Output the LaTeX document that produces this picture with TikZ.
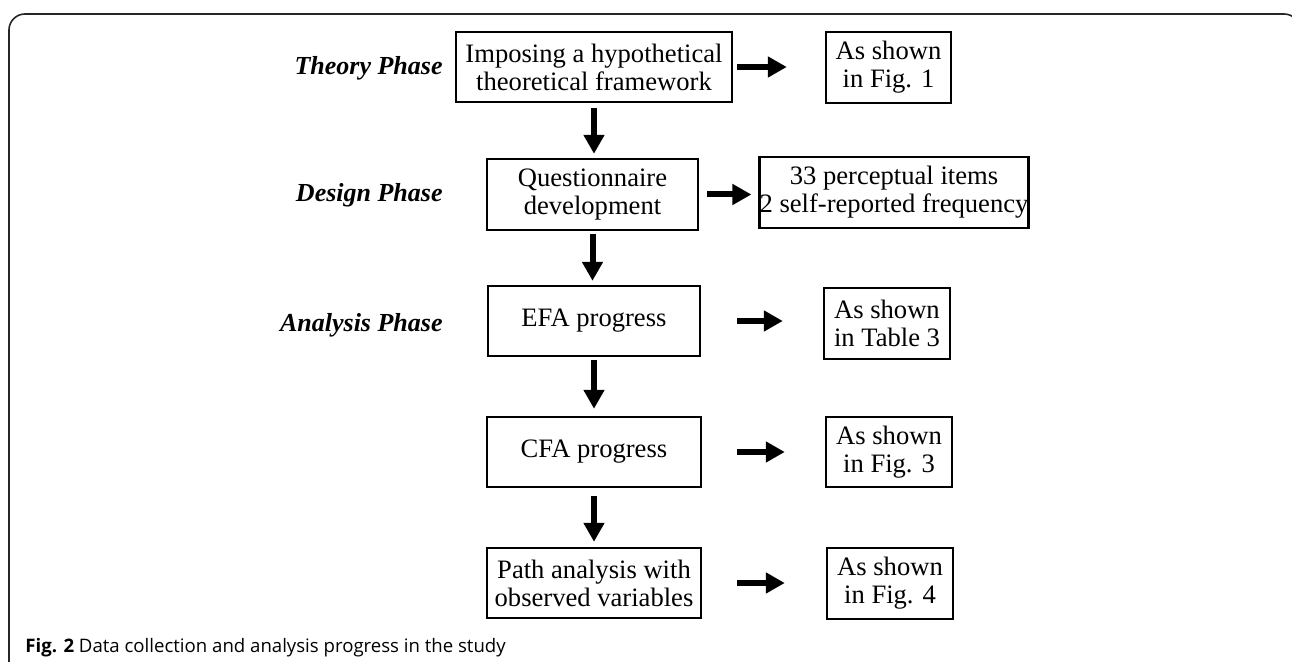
\documentclass[tikz,border=0pt]{standalone}
\usepackage{fontspec}
\setmainfont{Liberation Serif}
\newfontfamily\capfont{Open Sans}
\usetikzlibrary{arrows.meta}

\begin{document}
\begin{tikzpicture}[x=0.5pt, y=-0.5pt,
    stepbox/.style={draw, line width=1.2pt, align=center, inner sep=0pt,
                    font=\fontsize{13.3}{14}\selectfont},
    phase/.style={anchor=base east, inner sep=0pt, font=\fontsize{13}{14}\selectfont\bfseries\itshape},
    flow/.style={-{Triangle[length=9.5pt, width=10pt]}, line width=3pt}]
    \useasboundingbox (0,0) rectangle (1292,662);
    % frame round the figure
    \draw[line width=0.8pt, rounded corners=8pt, black!85] (9,700) -- (9,14) -- (1300,14) -- (1300,700);

    % phases
    \node[phase] (theoryph) at (443,75) {Theory Phase};
    \node[phase] (designph) at (443,202) {Design Phase};
    \node[phase] (analysisph) at (443,332) {Analysis Phase};

    % main column
    \node[stepbox, minimum width=138pt, minimum height=35pt] (theory) at (594,67) {Imposing a hypothetical\\theoretical framework};
    \node[stepbox, minimum width=105.5pt, minimum height=35.5pt] (design) at (592.5,194.5) {Questionnaire\\development};
    \node[stepbox, minimum width=106pt, minimum height=35pt] (efa) at (594,321) {EFA progress};
    \node[stepbox, minimum width=107pt, minimum height=35pt] (cfa) at (594,452) {CFA progress};
    \node[stepbox, minimum width=107pt, minimum height=35pt] (path) at (594,583) {Path analysis with\\observed variables};

    % results column
    \node[stepbox, minimum width=62.5pt, minimum height=35.5pt] (fig1) at (888.5,67.5) {As shown\\in Fig. 1};
    \node[stepbox, minimum width=133pt, minimum height=35.5pt] (items) at (894,192.5) {33 perceptual items\\2 self-reported frequency};
    \node[stepbox, minimum width=63pt, minimum height=35.5pt] (table3) at (887,323.5) {As shown\\in Table 3};
    \node[stepbox, minimum width=63pt, minimum height=35pt] (fig3) at (889,452) {As shown\\in Fig. 3};
    \node[stepbox, minimum width=63pt, minimum height=35.5pt] (fig4) at (890,583.5) {As shown\\in Fig. 4};

    % arrows down
    \draw[flow, shorten <=2.5pt, shorten >=2pt] (theory.south) -- (theory.south |- design.north);
    \draw[flow, shorten <=1.5pt, shorten >=2pt] (design.south) -- (design.south |- efa.north);
    \draw[flow, shorten <=1.5pt, shorten >=3.5pt] (efa.south) -- (efa.south |- cfa.north);
    \draw[flow, shorten <=4pt, shorten >=2.5pt] (cfa.south) -- (cfa.south |- path.north);

    % arrows right
    \draw[flow, shorten <=2pt, shorten >=19pt] (theory.east) -- (theory.east -| fig1.west);
    \draw[flow, shorten <=4pt, shorten >=3.5pt] (design.east) -- (design.east -| items.west);
    \draw[flow, shorten <=18pt, shorten >=20pt] (efa.east) -- (efa.east -| table3.west);
    \draw[flow, shorten <=17.5pt, shorten >=20pt] (cfa.east) -- (cfa.east -| fig3.west);
    \draw[flow, shorten <=17.5pt, shorten >=20.5pt] (path.east) -- (path.east -| fig4.west);

    \node[anchor=base west, inner sep=0pt, font=\capfont\fontsize{9.3}{11}\selectfont] (caption) at (25,653)
        {\textbf{Fig. 2} Data collection and analysis progress in the study};
\end{tikzpicture}
\end{document}
